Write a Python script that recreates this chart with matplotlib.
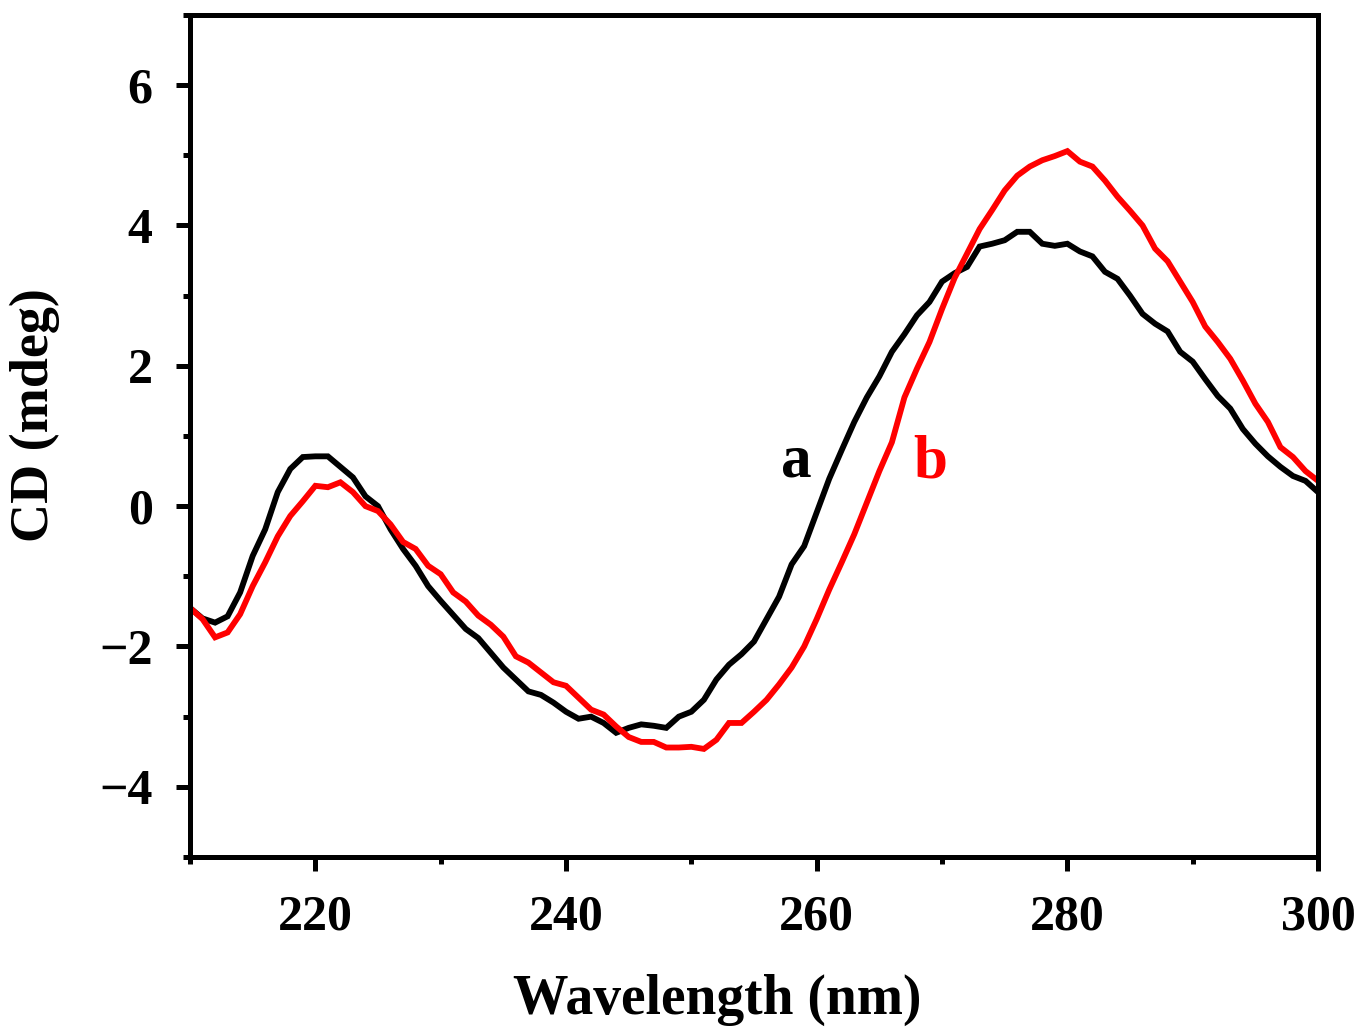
import matplotlib
matplotlib.use("Agg")
import matplotlib.pyplot as plt
from matplotlib.ticker import MultipleLocator

plt.rcParams['font.family'] = ['Liberation Serif', 'DejaVu Serif']
plt.rcParams['font.weight'] = 'bold'

wavelength = list(range(210, 301))

cd_a = [-1.45, -1.60, -1.66, -1.57, -1.23, -0.71, -0.33, 0.20, 0.53, 0.70,
        0.71, 0.71, 0.56, 0.41, 0.14, 0.00, -0.33, -0.61, -0.85, -1.14,
        -1.35, -1.55, -1.75, -1.88, -2.09, -2.30, -2.47, -2.64, -2.69, -2.80,
        -2.93, -3.03, -3.00, -3.09, -3.23, -3.16, -3.11, -3.13, -3.16, -3.00,
        -2.93, -2.76, -2.47, -2.26, -2.11, -1.93, -1.61, -1.29, -0.83, -0.57,
        -0.09, 0.39, 0.80, 1.20, 1.55, 1.85, 2.20, 2.45, 2.72, 2.91,
        3.20, 3.32, 3.41, 3.70, 3.74, 3.79, 3.91, 3.91, 3.74, 3.71,
        3.74, 3.63, 3.56, 3.34, 3.24, 3.00, 2.74, 2.60, 2.49, 2.20,
        2.06, 1.81, 1.57, 1.39, 1.10, 0.89, 0.71, 0.56, 0.43, 0.36,
        0.20]

cd_b = [-1.45, -1.61, -1.87, -1.80, -1.54, -1.14, -0.80, -0.43, -0.14, 0.07,
        0.29, 0.27, 0.34, 0.20, 0.00, -0.07, -0.26, -0.51, -0.61, -0.85,
        -0.97, -1.23, -1.36, -1.56, -1.69, -1.86, -2.14, -2.23, -2.37, -2.51,
        -2.56, -2.73, -2.90, -2.97, -3.14, -3.29, -3.36, -3.36, -3.44, -3.44,
        -3.43, -3.46, -3.33, -3.09, -3.09, -2.93, -2.76, -2.54, -2.30, -2.00,
        -1.61, -1.19, -0.80, -0.40, 0.05, 0.50, 0.91, 1.55, 1.96, 2.34,
        2.81, 3.25, 3.60, 3.95, 4.22, 4.50, 4.71, 4.84, 4.93, 4.99,
        5.06, 4.91, 4.84, 4.64, 4.41, 4.21, 4.00, 3.67, 3.49, 3.20,
        2.91, 2.56, 2.34, 2.10, 1.79, 1.46, 1.20, 0.84, 0.70, 0.50,
        0.36]

fig = plt.figure(figsize=(13.64, 10.34), dpi=100)
ax = fig.add_axes([0.1393, 0.1712, 0.8270, 0.8143])

ax.plot(wavelength, cd_a, color='black', lw=4.2, solid_joinstyle='miter')
ax.plot(wavelength, cd_b, color='red', lw=4.2, solid_joinstyle='miter')

# curve labels
ax.text(258.4, 0.64, 'a', color='black', fontsize=44, fontweight='bold',
        ha='center', va='center')
ax.text(269.1, 0.62, 'b', color='red', fontsize=44, fontweight='bold',
        ha='center', va='center')

ax.set_xlim(210, 300)
ax.set_ylim(-5, 7)
ax.xaxis.set_minor_locator(MultipleLocator(10))
ax.yaxis.set_minor_locator(MultipleLocator(1))
ax.set_yticks([-4, -2, 0, 2, 4, 6])
ax.set_xticks([220, 240, 260, 280, 300])

for s in ax.spines.values():
    s.set_linewidth(3.6)

ax.tick_params(which='both', direction='out', width=3.6, top=False, right=False,
               labelsize=36)
ax.tick_params(which='major', length=10, pad=17)
ax.tick_params(which='minor', length=5)

ax.set_xlabel('Wavelength (nm)', fontsize=40, fontweight='bold', labelpad=24)
ax.set_ylabel('CD (mdeg)', fontsize=39, fontweight='bold', labelpad=28)
ax.xaxis.label.set_x(0.467)
ax.yaxis.label.set_y(0.525)

fig.savefig('out.png', dpi=100)
